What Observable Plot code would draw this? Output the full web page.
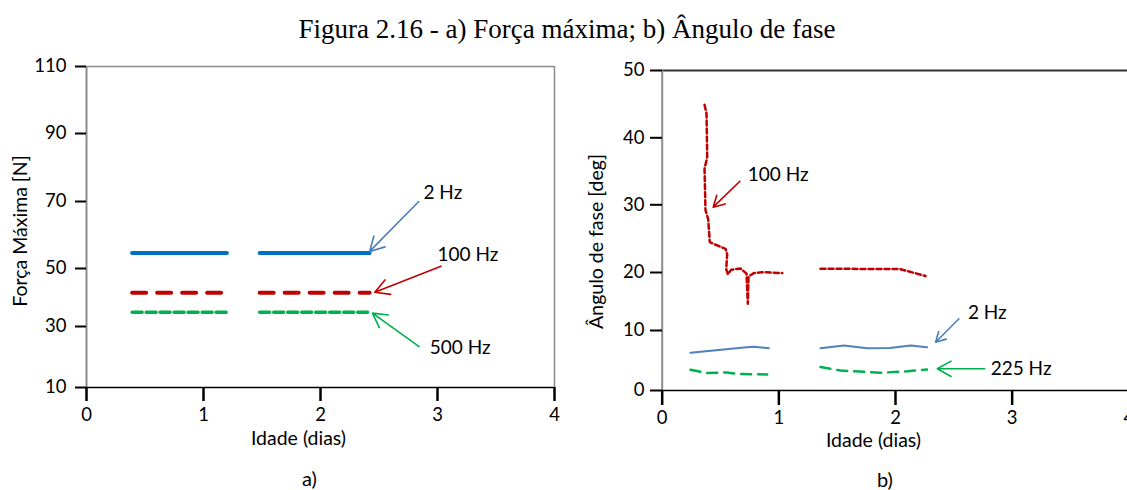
<!DOCTYPE html>
<html>
<head>
<meta charset="utf-8">
<script src="https://cdn.jsdelivr.net/npm/d3@7"></script>
<script src="https://cdn.jsdelivr.net/npm/@observablehq/plot@0.6"></script>
<style>
html, body { margin: 0; padding: 0; background: #fff; overflow: hidden; }
#page { position: relative; width: 1127px; height: 490px; background: #fff; }
.panel { position: absolute; top: 0; }
.title { position: absolute; top: 13px; left: 567px; transform: translateX(-50%); white-space: nowrap;
  font-family: "Liberation Serif", serif; font-size: 27px; line-height: 32px; color: #000; }
.cap { position: absolute; font-family: Lato, sans-serif; font-size: 20px; line-height: 20px; color: #000; }
</style>
</head>
<body>
<div id="page">
  <div class="title">Figura 2.16 - a) Força máxima; b) Ângulo de fase</div>
  <div class="panel" id="left" style="left:0;width:570px;"></div>
  <div class="panel" id="right" style="left:570px;width:557px;"></div>
  <div class="cap" style="left:302px;top:468px;">a)</div>
  <div class="cap" style="left:877px;top:469px;">b)</div>
</div>
<script>
// ---------- Data: a) Força máxima ----------
const forceFreqs = ["2 Hz", "100 Hz", "500 Hz"];
const forceValues = [54.6, 41.6, 34.9];
const forceSeg1 = [[0.39, 1.20], [0.39, 1.15], [0.39, 1.20]];
const forceSeg2 = [[1.48, 2.42], [1.48, 2.42], [1.48, 2.42]];
const forceTicksX = [0, 1, 2, 3, 4];
const forceTicksY = [10, 30, 50, 70, 90, 110];

// annotations (data units)
const forceNoteText = ["2 Hz", "100 Hz", "500 Hz"];
const forceNoteX = [2.88, 3.0, 2.934];
const forceNoteY = [72.6, 54.2, 22.9];
const forceArrowFrom = [[2.84, 70.0], [3.03, 50.7], [2.843, 23.4]];
const forceArrowTo = [[2.42, 55.1], [2.464, 41.8], [2.444, 34.6]];

// ---------- Data: b) Ângulo de fase ----------
const phaseFreqs = ["2 Hz", "100 Hz", "225 Hz"];
const age100a = [0.363, 0.38, 0.386, 0.363, 0.371, 0.394, 0.408, 0.443, 0.543, 0.557, 0.549, 0.563, 0.592, 0.671, 0.723, 0.734, 0.74, 0.786, 0.857, 1.029];
const phase100a = [44.9, 43.6, 37.1, 35.4, 29.2, 27.9, 24.5, 24.2, 23.5, 22.7, 20.5, 19.7, 20.4, 20.6, 19.8, 14.6, 19.3, 19.9, 20.05, 19.9];
const age100b = [1.357, 1.6, 1.8, 2.04, 2.258];
const phase100b = [20.55, 20.55, 20.5, 20.5, 19.4];
const age2a = [0.243, 0.528, 0.70, 0.786, 0.914];
const phase2a = [6.28, 6.83, 7.17, 7.3, 7.05];
const age2b = [1.357, 1.557, 1.758, 1.95, 2.13, 2.27];
const phase2b = [7.05, 7.5, 7.05, 7.1, 7.5, 7.2];
const age225a = [0.243, 0.386, 0.55, 0.643, 0.9];
const phase225a = [3.45, 2.9, 3.0, 2.78, 2.67];
const age225b = [1.357, 1.53, 1.872, 2.1, 2.27];
const phase225b = [3.9, 3.33, 2.95, 3.2, 3.5];
const phaseTicksX = [0, 1, 2, 3, 4];
const phaseTicksY = [0, 10, 20, 30, 40, 50];

const phaseNoteText = ["2 Hz", "100 Hz", "225 Hz"];
const phaseNoteX = [2.621, 0.734, 2.816];
const phaseNoteY = [12.98, 34.48, 3.62];
const phaseArrowFrom = [[2.544, 12.02], [0.666, 33.52], [2.764, 3.62]];
const phaseArrowTo = [[2.344, 8.05], [0.437, 29.65], [2.358, 3.62]];

// ---------- Styles ----------
const forceStyle = {
  "2 Hz": {stroke: "#0070C0", strokeWidth: 4, strokeDasharray: null},
  "100 Hz": {stroke: "#C00000", strokeWidth: 4, strokeDasharray: "14,11"},
  "500 Hz": {stroke: "#00B050", strokeWidth: 3.5, strokeDasharray: "10,4"}
};
const phaseStyle = {
  "2 Hz": {stroke: "#4F81BD", strokeWidth: 2, strokeDasharray: null},
  "100 Hz": {stroke: "#C00000", strokeWidth: 2.5, strokeDasharray: "5,3"},
  "225 Hz": {stroke: "#00B050", strokeWidth: 2.5, strokeDasharray: "10,7"}
};
const arrowColor = {"2 Hz": "#4A7EBB", "100 Hz": "#C00000", "500 Hz": "#00B050", "225 Hz": "#00B050"};

const commonStyle = {fontFamily: "Lato, sans-serif", fontSize: "18.5px", color: "#000", background: "transparent", overflow: "visible"};

// ---------- Build rows ----------
const forceRows = [];
forceFreqs.forEach((f, i) => {
  [forceSeg1[i], forceSeg2[i]].forEach((seg, s) => {
    seg.forEach(a => forceRows.push({freq: f, seg: s, age: a, force: forceValues[i]}));
  });
});

const phaseRows = [];
function addPhase(freq, seg, ages, vals) {
  ages.forEach((a, k) => phaseRows.push({freq, seg, age: a, phase: vals[k]}));
}
addPhase("100 Hz", 0, age100a, phase100a);
addPhase("100 Hz", 1, age100b, phase100b);
addPhase("2 Hz", 0, age2a, phase2a);
addPhase("2 Hz", 1, age2b, phase2b);
addPhase("225 Hz", 0, age225a, phase225a);
addPhase("225 Hz", 1, age225b, phase225b);

function notes(texts, xs, ys, from, to) {
  const marks = [];
  texts.forEach((t, i) => {
    marks.push(Plot.arrow([0], {x1: () => from[i][0], y1: () => from[i][1], x2: () => to[i][0], y2: () => to[i][1],
      stroke: arrowColor[t], strokeWidth: 1.6, headLength: 15, headAngle: 58}));
    marks.push(Plot.text([t], {x: () => xs[i], y: () => ys[i], text: d => d, textAnchor: "start", lineAnchor: "middle", fill: "#000", fontSize: 19}));
  });
  return marks;
}

// ---------- Left panel ----------
const left = Plot.plot({
  width: 570, height: 460,
  marginLeft: 86, marginRight: 16, marginTop: 66, marginBottom: 73,
  style: commonStyle,
  x: {type: "linear", domain: [0, 4], range: [86, 554]},
  y: {type: "linear", domain: forceTicksY, range: [387, 326, 268, 201, 133, 66]},
  marks: [
    Plot.ruleY([110], {x1: 0, x2: 4, stroke: "#8c8c8c", strokeWidth: 1.5}),
    Plot.ruleX([4], {y1: 10, y2: 110, stroke: "#8c8c8c", strokeWidth: 1.5}),
    Plot.ruleX([0], {y1: 10, y2: 110, stroke: "#8c8c8c", strokeWidth: 2}),
    Plot.ruleY([10], {x1: 0, x2: 4, stroke: "#000", strokeWidth: 1.5}),
    Plot.axisY({ticks: forceTicksY, tickSize: 11, tickPadding: 9, stroke: "#000", strokeWidth: 2, label: null, tickFormat: d => String(d)}),
    Plot.axisX({ticks: forceTicksX, tickSize: 14, tickPadding: 6, stroke: "#000", strokeWidth: 2.5, label: null, tickFormat: d => String(d)}),
    ...forceFreqs.map(f => Plot.line(forceRows.filter(d => d.freq === f), {x: "age", y: "force", z: "seg", ...forceStyle[f]})),
    ...notes(forceNoteText, forceNoteX, forceNoteY, forceArrowFrom, forceArrowTo),
    Plot.text(["Idade (dias)"], {frameAnchor: "bottom", dx: -22, dy: 51, lineAnchor: "middle", textAnchor: "middle", text: d => d, fill: "#000", fontSize: 19.5}),
    Plot.text(["Força Máxima [N]"], {frameAnchor: "left", dx: -66, dy: 4, rotate: -90, lineAnchor: "middle", textAnchor: "middle", text: d => d, fill: "#000", fontSize: 19.5})
  ]
});
document.getElementById("left").appendChild(left);

// ---------- Right panel ----------
const right = Plot.plot({
  width: 557, height: 460,
  marginLeft: 92, marginRight: 0, marginTop: 70, marginBottom: 70,
  style: commonStyle,
  x: {type: "linear", domain: [0, 4], range: [91.7, 558.3]},
  y: {type: "linear", domain: phaseTicksY, range: [390, 330, 272, 204.3, 137.3, 70]},
  marks: [
    Plot.ruleY([50], {x1: 0, x2: 4, stroke: "#333", strokeWidth: 2}),
    Plot.ruleX([0], {y1: 0, y2: 50, stroke: "#8c8c8c", strokeWidth: 2}),
    Plot.ruleY([0], {x1: 0, x2: 4, stroke: "#000", strokeWidth: 1.5}),
    Plot.axisY({ticks: phaseTicksY, tickSize: 12, tickPadding: 6, stroke: "#000", strokeWidth: 2, label: null, tickFormat: d => String(d)}),
    Plot.axisX({ticks: phaseTicksX, tickSize: 15, tickPadding: 5, stroke: "#000", strokeWidth: 2.5, label: null, tickFormat: d => String(d)}),
    ...phaseFreqs.map(f => Plot.line(phaseRows.filter(d => d.freq === f), {x: "age", y: "phase", z: "seg", ...phaseStyle[f]})),
    ...notes(phaseNoteText, phaseNoteX, phaseNoteY, phaseArrowFrom, phaseArrowTo),
    Plot.text(["Idade (dias)"], {frameAnchor: "bottom", dx: -21.5, dy: 50, lineAnchor: "middle", textAnchor: "middle", text: d => d, fill: "#000", fontSize: 19.5}),
    Plot.text(["Ângulo de fase [deg]"], {frameAnchor: "left", dx: -66, dy: 11, rotate: -90, lineAnchor: "middle", textAnchor: "middle", text: d => d, fill: "#000", fontSize: 19.5})
  ]
});
document.getElementById("right").appendChild(right);
</script>
</body>
</html>
